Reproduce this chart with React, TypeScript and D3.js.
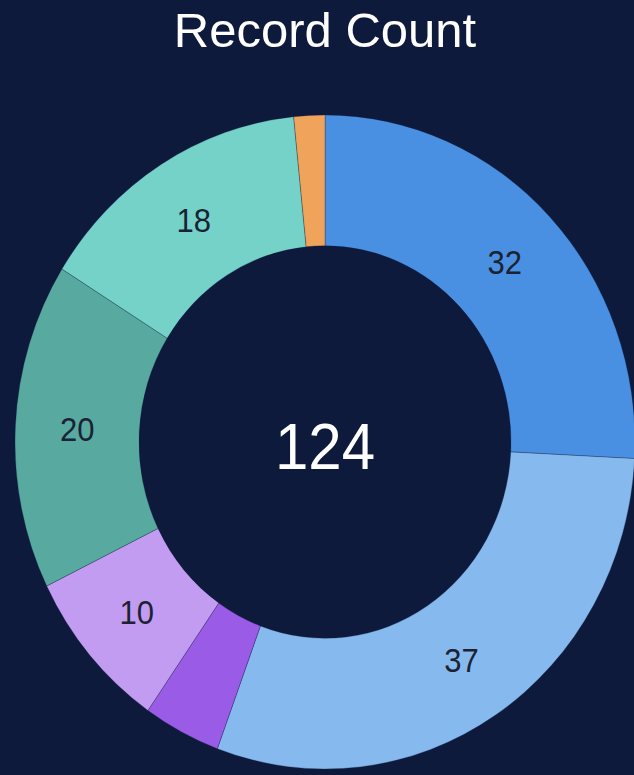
import React from "react";
import * as d3 from "d3";

const categories = ["A", "B", "C", "D", "E", "F", "G"];
const values = [32, 37, 5, 10, 20, 18, 2];
const colors = ["#4a90e2", "#86b9ee", "#9a5ce6", "#c29cf1", "#58aaa0", "#74d2c9", "#f0a35a"];
const showLabel = [true, true, false, true, true, true, false];
const title = "Record Count";

const W = 634;
const H = 775;
const cx = 325;
const cy = 442;
const outerR = 310;
const innerR = 186;
const sy = 1.055;

export default function App() {
  const pie = d3.pie<number>().sort(null).value((d) => d)(values);
  const arc = d3.arc<d3.PieArcDatum<number>>().innerRadius(innerR).outerRadius(outerR);
  const labelArc = d3
    .arc<d3.PieArcDatum<number>>()
    .innerRadius((innerR + outerR) / 2)
    .outerRadius((innerR + outerR) / 2);
  const total = d3.sum(values);
  return (
    <svg
      width={W}
      height={H}
      style={{ position: "absolute", left: 0, top: 0, display: "block" }}
      fontFamily="'Liberation Sans', Arial, Helvetica, sans-serif"
    >
      <rect width={W} height={H} fill="#0e1a3b" />
      <text x={cx} y={47} textAnchor="middle" fill="#ffffff" fontSize={49}>
        {title}
      </text>
      <g transform={`translate(${cx},${cy}) scale(1,${sy})`}>
        {pie.map((p, i) => (
          <path
            key={categories[i]}
            d={arc(p) || ""}
            fill={colors[i]}
            stroke="#0e1a3b"
            strokeOpacity={0.35}
            strokeWidth={0.8}
          />
        ))}
      </g>
      {pie.map((p, i) => {
        if (!showLabel[i]) return null;
        const [lx, ly] = labelArc.centroid(p);
        return (
          <text
            key={"l" + categories[i]}
            x={cx + lx}
            y={cy + ly * sy}
            dy="0.36em"
            textAnchor="middle"
            fill="#1b2233"
            fontSize={31}
            transform={`translate(0,${(cy + ly * sy) * -0.06}) scale(1,1.06)`}
          >
            {values[i]}
          </text>
        );
      })}
      <text
        x={cx}
        y={469 / 1.08}
        textAnchor="middle"
        fill="#ffffff"
        fontSize={60}
        transform="scale(1,1.08)"
      >
        {total}
      </text>
    </svg>
  );
}
